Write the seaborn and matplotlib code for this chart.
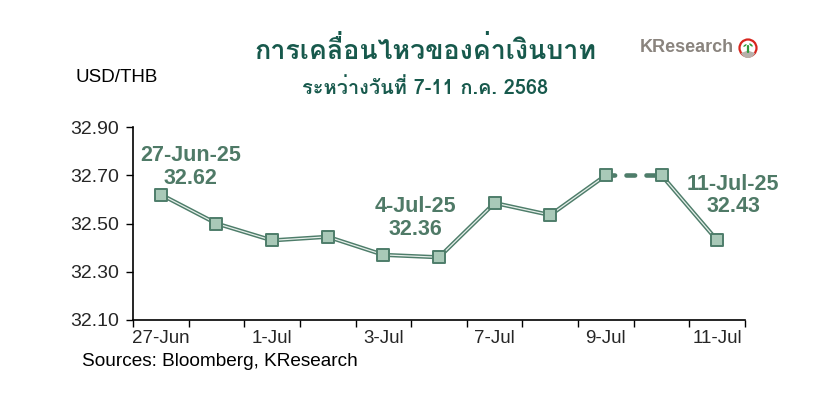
import matplotlib
matplotlib.use("Agg")
import matplotlib.pyplot as plt
import matplotlib.patheffects as pe
from matplotlib import font_manager
from matplotlib.patches import Circle, Ellipse, Wedge
import seaborn as sns
import pandas as pd
import numpy as np

# ---------------- data ----------------
dates = ["27-Jun", "30-Jun", "1-Jul", "2-Jul", "3-Jul", "4-Jul",
         "7-Jul", "8-Jul", "9-Jul", "10-Jul", "11-Jul"]
rates = [32.62, 32.50, 32.43, 32.445, 32.37, 32.36,
         32.585, 32.535, 32.70, 32.70, 32.43]
tick_labels = ["27-Jun", "1-Jul", "3-Jul", "7-Jul", "9-Jul", "11-Jul"]
y_ticks = [32.10, 32.30, 32.50, 32.70, 32.90]
annotations = [("27-Jun-25", "32.62"), ("4-Jul-25", "32.36"), ("11-Jul-25", "32.43")]

title = "การเคลื่อนไหวของค่าเงินบาท"
subtitle = "ระหว่างวันที่ 7-11 ก.ค. 2568"

# ---------------- fonts ----------------
thai_family = None
try:
    from fontTools.ttLib import TTFont
    for fe in font_manager.fontManager.ttflist:
        try:
            f = TTFont(fe.fname, fontNumber=0, lazy=True)
            cmap = f.getBestCmap()
            if cmap and 0x0E01 in cmap:
                thai_family = fe.name
                break
        except Exception:
            pass
except Exception:
    pass

sns.set_theme(style="white")
plt.rcParams['font.family'] = ['Liberation Sans', 'DejaVu Sans']
plt.rcParams['lines.scale_dashes'] = False
title_fam = ([thai_family] if thai_family else []) + ['Liberation Sans', 'DejaVu Sans']

df = pd.DataFrame({"idx": np.arange(len(dates)), "date": dates, "rate": rates})

dark = "#4e7d6a"
light = "#a9c9b8"
txtc = "#4f7a67"

fig = plt.figure(figsize=(8.38, 3.93), dpi=100)
ax = fig.add_axes([133/838, 1-320/393, (745-133)/838, (320-127)/393])

line_fx = [pe.Stroke(linewidth=3.0, foreground=dark), pe.Normal()]
seg1 = df.iloc[0:9]
seg2 = df.iloc[8:10]
seg3 = df.iloc[9:11]
for seg in (seg1, seg3):
    sns.lineplot(data=seg, x="idx", y="rate", ax=ax, color="#e6efea",
                 linewidth=0.9, path_effects=line_fx,
                 estimator=None, sort=False)

# dashed segment: dark dashes
dash_pat = (0, (6.2, 8.2))
sns.lineplot(data=seg2, x="idx", y="rate", ax=ax, color=dark,
             linewidth=3.3, estimator=None, sort=False)
ax.lines[-1].set_linestyle(dash_pat)
ax.lines[-1].set_dash_capstyle("round")

sns.scatterplot(data=df, x="idx", y="rate", ax=ax, marker="s", s=82,
                color=light, edgecolor=dark, linewidth=1.4, zorder=5)

ax.set_xlim(-0.5, len(dates) - 0.5)
ax.set_ylim(32.10, 32.90)
ax.set_yticks(y_ticks)
ax.set_yticklabels([f"{v:.2f}" for v in y_ticks], fontsize=14)
ax.set_xticks(np.arange(-0.5, len(dates), 1.0))
ax.set_xticklabels([])
ax.set_xticks([dates.index(t) for t in tick_labels], minor=True)
ax.set_xticklabels(tick_labels, minor=True, fontsize=13.5)
ax.tick_params(axis="x", which="major", direction="out", length=5, width=1, color="black", bottom=True)
ax.tick_params(axis="x", which="minor", length=0, pad=7)
ax.tick_params(axis="y", direction="out", length=5, width=1, color="black", left=True, pad=5)
ax.set_xlabel("")
ax.set_ylabel("")
for s in ["top", "right"]:
    ax.spines[s].set_visible(False)
for s in ["left", "bottom"]:
    ax.spines[s].set_color("black")
    ax.spines[s].set_linewidth(1.2)
ax.grid(False)

# annotations
ann_pos = [(0.53, 32.734), (4.57, 32.521), (10.29, 32.616)]
for (d, v), (xx, yy) in zip(annotations, ann_pos):
    ax.text(xx, yy, f"{d}\n{v}", ha="center", va="center", fontsize=15.5,
            fontweight="bold", color=txtc, linespacing=1.12, clip_on=False)

# titles
fig.text(425/838, 1-50/393, title, ha="center", va="center", fontsize=19.3,
         fontweight="bold", color="#17594c", family=title_fam)
fig.text(425/838, 1-88/393, subtitle, ha="center", va="center", fontsize=14.4,
         fontweight="bold", color="#17594c", family=title_fam)
fig.text(75/838, 1-78/393, "USD/THB", ha="left", va="center", fontsize=13.5, color="black")
fig.text(82/838, 1-361/393, "Sources: Bloomberg, KResearch", ha="left", va="center",
         fontsize=13.7, color="black")

# logo
fig.text(640/838, 1-48/393, "KResearch", ha="left", va="center", fontsize=13,
         fontweight="bold", color="#8a847e")
lax = fig.add_axes([(748-11)/838, 1-(48+11)/393, 22/838, 22/393])
lax.set_xlim(-1.1, 1.1)
lax.set_ylim(-1.1, 1.1)
lax.set_aspect("equal")
lax.axis("off")
lax.add_patch(Circle((0, 0), 0.85, facecolor="white", edgecolor="#d7261e", linewidth=1.6))
lax.add_patch(Wedge((0, -0.25), 0.75, 200, 340, facecolor="#b8b0aa", edgecolor="none"))
lax.plot([0, 0], [-0.45, 0.2], color="#2f9a3c", linewidth=1.6)
lax.add_patch(Ellipse((-0.3, 0.25), 0.55, 0.3, angle=35, facecolor="#2f9a3c"))
lax.add_patch(Ellipse((0.3, 0.3), 0.6, 0.32, angle=-40, facecolor="#2f9a3c"))

fig.savefig("out.png", dpi=100)
